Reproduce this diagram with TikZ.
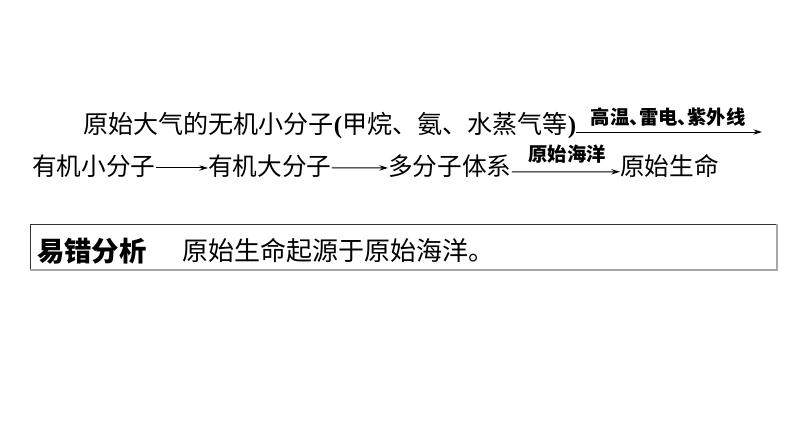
\documentclass[tikz,border=0pt]{standalone}
\usepackage{fontspec}
\newfontfamily\cjk{Noto Sans CJK SC}
\newfontfamily\latb{Liberation Serif}
\usetikzlibrary{arrows.meta}
\begin{document}
\begin{tikzpicture}[x=0.75pt,y=-0.75pt,
  txt/.style={inner sep=0pt, anchor=base west, font=\cjk\fontsize{18.5pt}{20pt}\selectfont},
  lbl/.style={inner sep=0pt, anchor=base, font=\cjk\bfseries\fontsize{14.5pt}{16pt}\selectfont},
  arr/.style={line width=0.75pt, -{Stealth[length=6.5pt,width=4pt]}},
  boxt/.style={inner sep=0pt, anchor=base west, font=\cjk\fontsize{19.5pt}{21pt}\selectfont},
  boxh/.style={boxt, font=\cjk\bfseries\fontsize{20.5pt}{22pt}\selectfont}]
\useasboundingbox[fill=white] (0,0) rectangle (794,446);
% line 1
\node[txt, font=\cjk\fontsize{18.8pt}{20pt}\selectfont] (t1) at (83,133.8) {原始大气的无机小分子{\latb\bfseries (}甲烷、氨、水蒸气等{\latb\bfseries )}};
\coordinate (e1) at (762,132);
\draw[arr] (t1.east |- e1) -- (e1);
\node[lbl] (l1) at (668,124) {高温\makebox[0.5em][l]{、}雷电\makebox[0.5em][l]{、}紫外线};
% line 2
\node[txt] (n1) at (32,175.3) {有机小分子};
\node[txt] (n2) at (208,175.3) {有机大分子};
\node[txt] (n3) at (388,175.3) {多分子体系};
\node[txt] (n4) at (620,175.3) {原始生命};
\draw[arr] ([yshift=-1.5pt]n1.east) -- ([yshift=-1.5pt]n2.west);
\draw[arr] ([yshift=-1.5pt]n2.east) -- ([yshift=-1.5pt]n3.west);
\draw[arr] ([yshift=-4.5pt]n3.east) -- ([yshift=-4.5pt]n4.west);
\node[lbl] (l2) at (567,161.5) {原始海洋};
% box
\draw[black!80, line width=0.75pt] (30,224) rectangle (777,270);
\draw[gray!70, line width=1.5pt] (30,270) -- (777,270) -- (777,224);
\node[boxh] (k1) at (37,261) {易错分析};
\node[boxt] (k2) at (182,260.5) {原始生命起源于原始海洋。};
\end{tikzpicture}
\end{document}
